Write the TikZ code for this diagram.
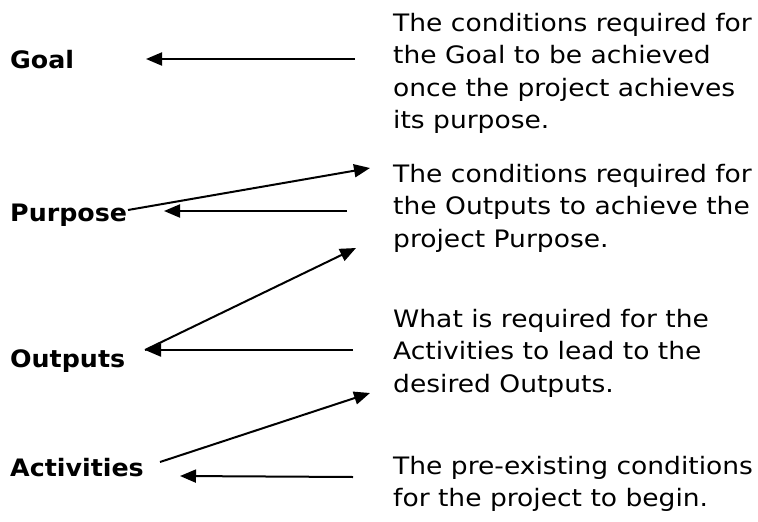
\documentclass[tikz,border=0pt]{standalone}
\usepackage{fontspec}
\newfontfamily\descfont[FakeStretch=1.105]{DejaVu Sans}
\newfontfamily\labelfont[FakeStretch=1.055]{DejaVu Sans}
\usetikzlibrary{arrows.meta}
\begin{document}
\begin{tikzpicture}[x=1pt,y=-1pt,
  lbl/.style={anchor=base west, inner sep=0pt,
    font={\labelfont\bfseries\fontsize{24}{32.5}\selectfont}},
  desc/.style={anchor=base west, inner sep=0pt, align=left,
    font={\descfont\fontsize{24}{32.5}\selectfont}},
  link/.style={line width=2pt, -{Triangle[length=16pt,width=13pt]}}]
\useasboundingbox (0,0) rectangle (758,522);

% level names on the left
\node[lbl] (goal)       at (10,68.5)  {Goal};
\node[lbl] (purpose)    at (10,221)   {Purpose};
\node[lbl] (outputs)    at (10,367)   {Outputs};
\node[lbl] (activities) at (10,476)   {Activities};

% assumption texts on the right (anchored at the baseline of the last line)
\node[desc] (agoal) at (393,128.5)
  {The conditions required for\\the Goal to be achieved\\once the project achieves\\its purpose.};
\node[desc] (apurpose) at (393,247)
  {The conditions required for\\the Outputs to achieve the\\project Purpose.};
\node[desc] (aoutputs) at (393,392)
  {What is required for the\\Activities to lead to the\\desired Outputs.};
\node[desc] (aactivities) at (393,506.5)
  {The pre-existing conditions\\for the project to begin.};

% arrow end points
\coordinate (g0) at (355,59);   \coordinate (g1) at (146,59);
\coordinate (p0) at (347,211);  \coordinate (p1) at (164,211);
\coordinate (pd) at (128,210);  \coordinate (pu) at (370,168);
\coordinate (o0) at (353,350);  \coordinate (o1) at (145,350);
\coordinate (ou) at (356,248);
\coordinate (a0) at (353,477);  \coordinate (a1) at (180,476);
\coordinate (ad) at (160,462);  \coordinate (au) at (370,393);

% assumptions feeding each level
\draw[link] (g0) -- (g1);
\draw[link] (p0) -- (p1);
\draw[link] (o0) -- (o1);
\draw[link] (a0) -- (a1);
% each level together with its assumptions leads up
\draw[link] (pd) -- (pu);
\draw[link] (o1) -- (ou);
\draw[link] (ad) -- (au);
\end{tikzpicture}
\end{document}
